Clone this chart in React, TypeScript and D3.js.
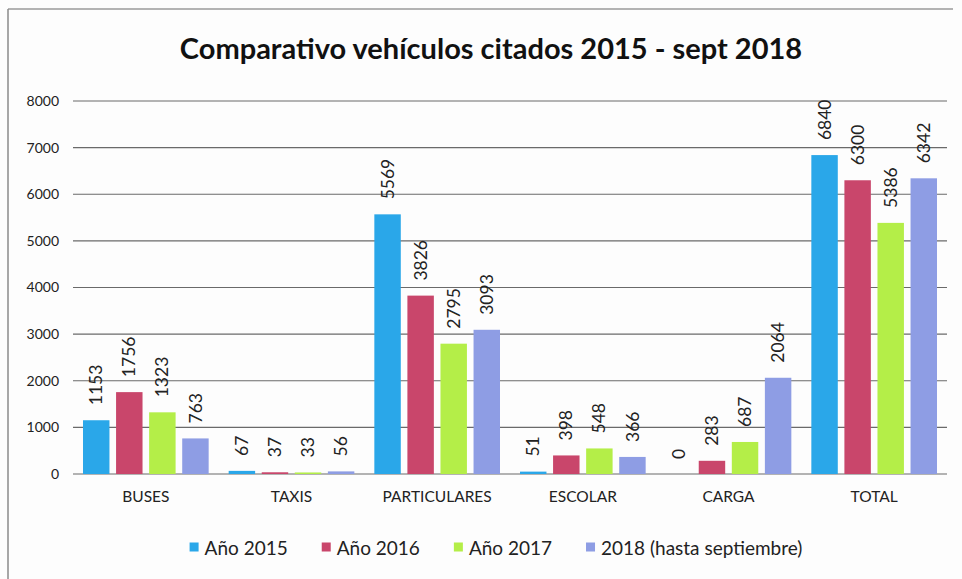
import React from "react";
import * as d3 from "d3";

const categories = ["BUSES", "TAXIS", "PARTICULARES", "ESCOLAR", "CARGA", "TOTAL"];
const seriesNames = ["Año 2015", "Año 2016", "Año 2017", "2018 (hasta septiembre)"];
const values2015 = [1153, 67, 5569, 51, 0, 6840];
const values2016 = [1756, 37, 3826, 398, 283, 6300];
const values2017 = [1323, 33, 2795, 548, 687, 5386];
const values2018 = [763, 56, 3093, 366, 2064, 6342];
const yTicks = [0, 1000, 2000, 3000, 4000, 5000, 6000, 7000, 8000];
const colors = ["#2aa7e9", "#c9466b", "#b4ee48", "#8e9de4"];
const title = "Comparativo vehículos citados 2015 - sept 2018";

const allSeries = [values2015, values2016, values2017, values2018];

const W = 962;
const H = 579;
const FONT = "Lato, 'Open Sans', sans-serif";

function measure(text: string, font: string): number {
  const c = document.createElement("canvas");
  const ctx = c.getContext("2d");
  if (!ctx) return text.length * 8;
  ctx.font = font;
  return ctx.measureText(text).width;
}

export default function App() {
  const left = 73;
  const right = 947;
  const top = 101;
  const bottom = 474;

  const x0 = d3.scaleBand<string>().domain(categories).range([left, right]).padding(0);
  const x1 = d3
    .scaleBand<string>()
    .domain(seriesNames)
    .range([10, x0.bandwidth() - 10])
    .paddingInner(0.2)
    .paddingOuter(0);
  const y = d3.scaleLinear().domain([0, 8000]).range([bottom, top]);

  const legendSize = 19;
  const legendFont = `${legendSize}px ${FONT}`;
  const sq = 9;
  const gapSq = 6;
  const gapItem = 34;
  const widths = seriesNames.map((s) => sq + gapSq + measure(s, legendFont));
  const totalW = d3.sum(widths) + gapItem * (seriesNames.length - 1);
  let lx = 496 - totalW / 2;
  const legendItems = seriesNames.map((s, i) => {
    const item = { name: s, x: lx, color: colors[i] };
    lx += widths[i] + gapItem;
    return item;
  });
  const legendY = 548;

  return (
    <svg width={W} height={H} style={{ position: "absolute", left: 0, top: 0, background: "#fdfdfd" }}>
      <rect x={0} y={0} width={W} height={H} fill="#fdfdfd" />
      <line x1={8} x2={953} y1={9} y2={9} stroke="#9a9a9a" strokeWidth={1.5} />
      <line x1={8} x2={8} y1={9} y2={H} stroke="#8a8a8a" strokeWidth={1.5} />
      <text x={491} y={59} textAnchor="middle" fontFamily={FONT} fontWeight="bold" fontSize={29} fill="#111">
        {title}
      </text>
      {yTicks.map((t) => (
        <g key={t}>
          <line x1={left} x2={right} y1={y(t)} y2={y(t)} stroke="#6a6a6a" strokeWidth={1.2} />
          <text x={59} y={y(t)} dy="0.35em" textAnchor="end" fontFamily={FONT} fontSize={14} fill="#222">
            {t}
          </text>
        </g>
      ))}
      {categories.map((c, ci) => (
        <g key={c} transform={`translate(${x0(c)},0)`}>
          {allSeries.map((vals, si) => {
            const v = vals[ci];
            const bx = x1(seriesNames[si]) as number;
            const bw = x1.bandwidth();
            return (
              <g key={si}>
                <rect x={bx} y={y(v)} width={bw} height={bottom - y(v)} fill={colors[si]} />
                <text
                  transform={`translate(${bx + bw / 2},${y(v) - 15}) rotate(-90)`}
                  dy="0.35em"
                  textAnchor="start"
                  fontFamily={FONT}
                  fontSize={17.5}
                  fill="#222"
                >
                  {v}
                </text>
              </g>
            );
          })}
          <text
            x={x0.bandwidth() / 2}
            y={502}
            textAnchor="middle"
            fontFamily={FONT}
            fontSize={15.5}
            fill="#222"
          >
            {c}
          </text>
        </g>
      ))}
      {legendItems.map((it) => (
        <g key={it.name}>
          <rect x={it.x} y={legendY - sq / 2 - 1} width={sq} height={sq} fill={it.color} />
          <text x={it.x + sq + gapSq} y={legendY} dy="0.35em" fontFamily={FONT} fontSize={legendSize} fill="#222">
            {it.name}
          </text>
        </g>
      ))}
    </svg>
  );
}
